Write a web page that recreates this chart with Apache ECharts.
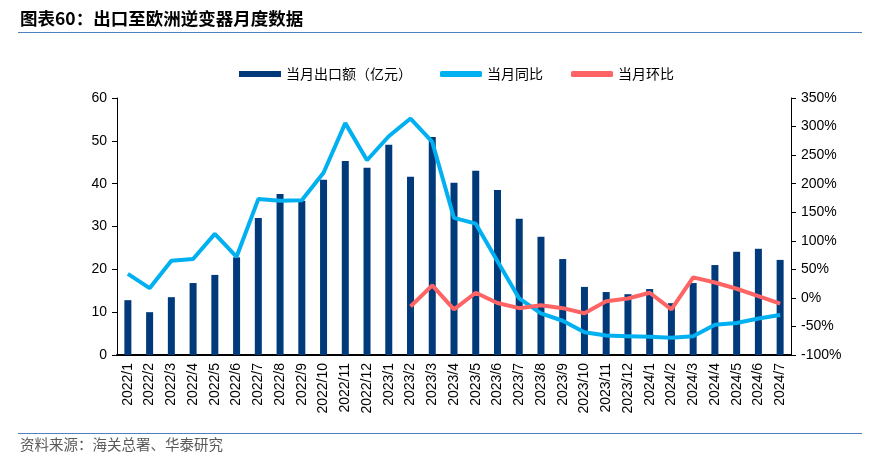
<!DOCTYPE html>
<html>
<head>
<meta charset="utf-8">
<script src="https://cdn.jsdelivr.net/npm/echarts@6/dist/echarts.min.js"></script>
<style>
html,body{margin:0;padding:0;background:#fff;}
#c{width:874px;height:461px;}
</style>
</head>
<body>
<div id="c"></div>
<script>
const categories = ['2022/1','2022/2','2022/3','2022/4','2022/5','2022/6','2022/7','2022/8','2022/9','2022/10','2022/11','2022/12',
  '2023/1','2023/2','2023/3','2023/4','2023/5','2023/6','2023/7','2023/8','2023/9','2023/10','2023/11','2023/12',
  '2024/1','2024/2','2024/3','2024/4','2024/5','2024/6','2024/7'];
const exportValue = [12.8,10.0,13.5,16.8,18.7,22.8,32.0,37.6,36.0,40.9,45.3,43.7,
  49.1,41.6,50.9,40.2,43.0,38.5,31.8,27.6,22.4,15.9,14.7,14.2,
  15.4,12.1,16.8,21.0,24.1,24.8,22.2];
const yoy = [42,17,65,68,112,72,173,170,171,219,306,241,
  283,314,273,140,130,64,-1,-27,-40,-60,-66,-67,
  -68,-70,-67,-47,-44,-36,-30];
const mom = [null,null,null,null,null,null,null,null,null,null,null,null,
  null,-15,22,-20,9,-9,-18,-13,-18,-27,-6,-1,
  9,-20,36,27,16,3,-10];
const leftTicks = {min:0, max:60, interval:10};
const rightTicks = {min:-100, max:350, interval:50};

const chart = echarts.init(document.getElementById('c'));
const font = '"Liberation Sans", Arial, sans-serif';
const cjk = '"Noto Sans CJK SC", sans-serif';
chart.setOption({
  animation:false,
  backgroundColor:'#fff',
  textStyle:{fontFamily:font},
  graphic:[
    {type:'text', left:20, top:10, style:{text:'图表60：出口至欧洲逆变器月度数据', font:'bold 17.5px "Noto Sans CJK SC", sans-serif', fill:'#000'}},
    {type:'line', shape:{x1:18,y1:32.5,x2:862,y2:32.5}, style:{stroke:'#4F81BD', lineWidth:1.2}},
    {type:'line', shape:{x1:18,y1:433.5,x2:862,y2:433.5}, style:{stroke:'#4F81BD', lineWidth:1.2}},
    {type:'text', left:20, top:437, style:{text:'资料来源：海关总署、华泰研究', font:'14.5px "Noto Sans CJK SC", sans-serif', fill:'#595959'}}
  ],
  legend:{
    top:62, left:234,
    itemWidth:42, itemHeight:6, itemGap:28,
    textStyle:{fontFamily:cjk, fontSize:14, color:'#000'},
    data:[
      {name:'当月出口额（亿元）', icon:'rect'},
      {name:'当月同比', icon:'roundRect'},
      {name:'当月环比', icon:'roundRect'}
    ]
  },
  grid:{left:117, right:83, top:98, bottom:106},
  xAxis:{
    type:'category', data:categories,
    axisLine:{lineStyle:{color:'#000', width:2}},
    axisTick:{show:false},
    axisLabel:{rotate:90, color:'#000', fontSize:14, fontFamily:font, margin:8, interval:0}
  },
  yAxis:[
    {type:'value', min:leftTicks.min, max:leftTicks.max, interval:leftTicks.interval,
     axisLine:{show:true, lineStyle:{color:'#000', width:1}},
     axisTick:{show:true, length:5, lineStyle:{color:'#000'}},
     splitLine:{show:false},
     axisLabel:{color:'#000', fontSize:14, fontFamily:font, margin:10}},
    {type:'value', min:rightTicks.min, max:rightTicks.max, interval:rightTicks.interval,
     position:'right',
     axisLine:{show:true, lineStyle:{color:'#000', width:1}},
     axisTick:{show:true, length:5, lineStyle:{color:'#000'}},
     splitLine:{show:false},
     axisLabel:{color:'#000', fontSize:14, fontFamily:font, margin:10, formatter:'{value}%'}}
  ],
  series:[
    {name:'当月出口额（亿元）', type:'bar', data:exportValue, barWidth:7, itemStyle:{color:'#003A7A'}},
    {name:'当月同比', type:'line', yAxisIndex:1, data:yoy, symbol:'none', lineStyle:{color:'#00B0F0', width:4}, itemStyle:{color:'#00B0F0'}},
    {name:'当月环比', type:'line', yAxisIndex:1, data:mom, symbol:'none', lineStyle:{color:'#FF6464', width:4}, itemStyle:{color:'#FF6464'}}
  ]
});
</script>
</body>
</html>
